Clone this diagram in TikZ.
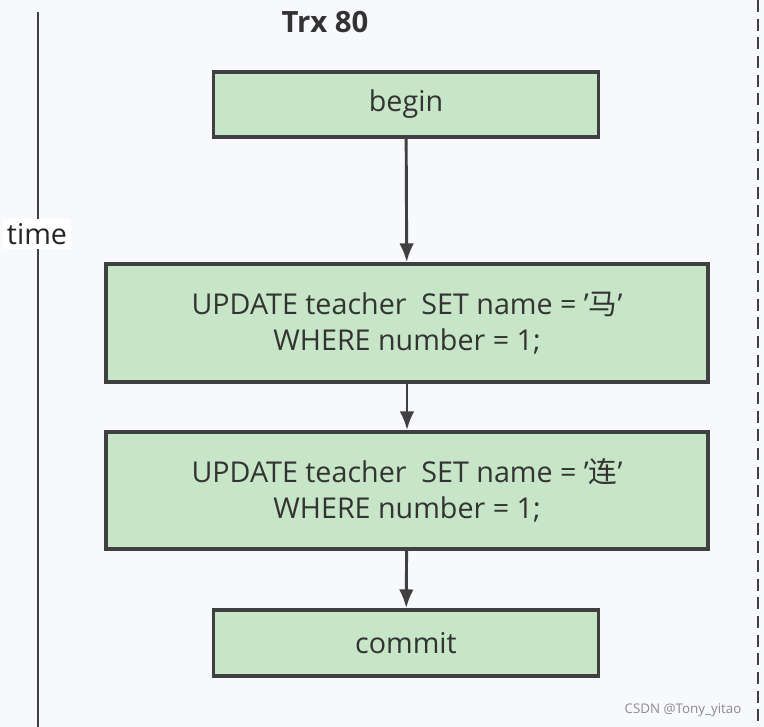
\documentclass[tikz,border=0pt]{standalone}
\usepackage{fontspec}
\setmainfont{Open Sans}
\newfontfamily\cjk{Noto Sans CJK SC}
\usetikzlibrary{arrows.meta}
\definecolor{boxfill}{RGB}{199,229,199}
\definecolor{boxline}{RGB}{64,64,64}
\definecolor{paper}{RGB}{248,249,252}
\newcommand{\sq}{\symbol{39}}
\begin{document}
\begin{tikzpicture}[x=0.75pt,y=-0.75pt]
	\tikzstyle{stepbox}=[draw=boxline, line width=2.8pt, fill=boxfill, align=center, inner sep=0pt, font=\fontsize{21.5}{27}\selectfont, text=black!80]
	\tikzstyle{flow}=[draw=boxline, line width=2.2pt, -{Latex[length=14pt,width=11pt]}]
	\useasboundingbox[fill=paper] (0,0) rectangle (764,727);

	% time axis
	\draw[boxline, line width=2.2pt] (38,12) -- (38,727);
	\node[fill=white, inner sep=3pt, font=\fontsize{21.5}{26}\selectfont, text=black!85] (time) at (37,234) {time};
	\draw[boxline, line width=2pt, dash pattern=on 9pt off 5pt] (758,0) -- (758,727);

	\node[font=\bfseries\fontsize{22}{26}\selectfont, text=black!80] (trx) at (325,22) {Trx 80};

	\node[stepbox, minimum width=385*0.75pt, minimum height=65*0.75pt] (begin) at (406,104.5) {begin};
	\node[stepbox, minimum width=602*0.75pt, minimum height=118*0.75pt] (upd1) at (407,323) {UPDATE teacher\ \ SET name = \sq{\cjk 马}\sq\\WHERE number = 1;};
	\node[stepbox, minimum width=602*0.75pt, minimum height=117*0.75pt] (upd2) at (407,490.5) {UPDATE teacher\ \ SET name = \sq{\cjk 连}\sq\\WHERE number = 1;};
	\node[stepbox, minimum width=385*0.75pt, minimum height=66*0.75pt] (commit) at (406,643) {commit};

	\draw[flow] (begin) -- (upd1);
	\draw[flow] (upd1) -- (upd2);
	\draw[flow] (upd2) -- (commit);

	\node[text=black!45, font=\fontsize{10}{12}\selectfont] (mark) at (683,710) {CSDN @Tony\_yitao};
\end{tikzpicture}
\end{document}
